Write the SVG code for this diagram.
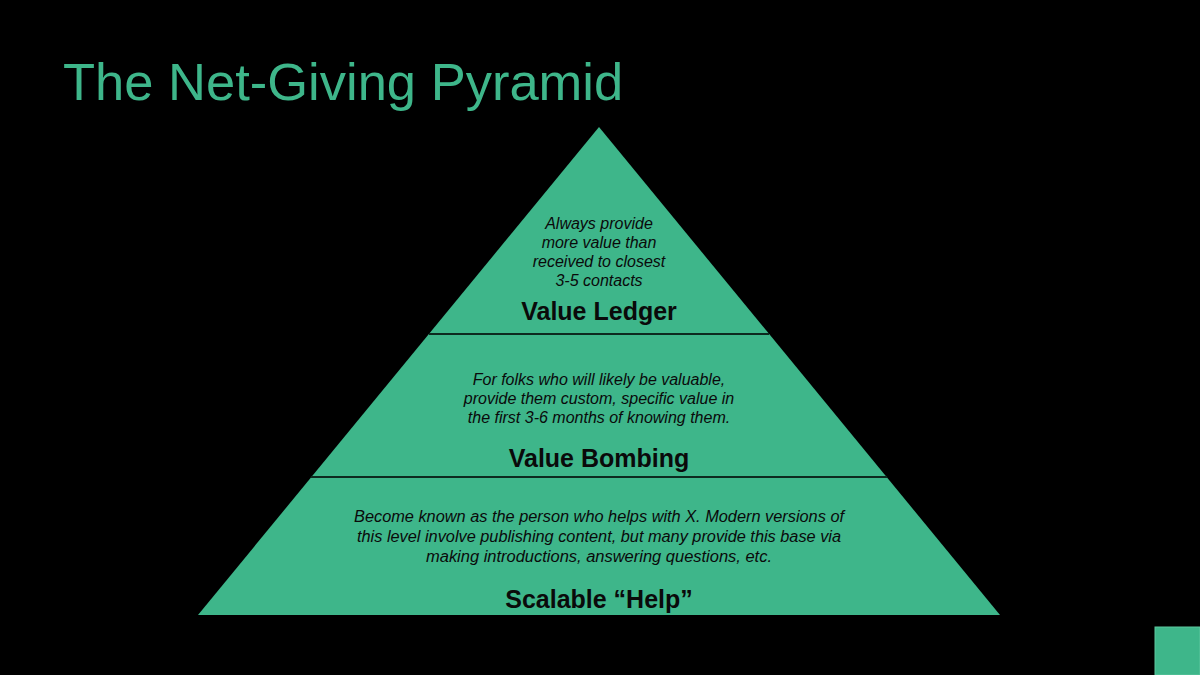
<svg xmlns="http://www.w3.org/2000/svg" width="1200" height="675" viewBox="0 0 1200 675">
<style>
.tier{fill:#3EB68A;}
.div{stroke:#0d2a1f;stroke-width:2;}
.desc{font-family:"Liberation Sans",Arial,sans-serif;font-style:italic;font-size:16px;fill:#0a0a0a;text-anchor:middle;}
.lbl{font-family:"Liberation Sans",Arial,sans-serif;font-weight:bold;font-size:25px;fill:#0a0a0a;text-anchor:middle;}
</style>
<rect width="1200" height="675" fill="#000"/>
<text x="63" y="100" font-family="'Liberation Sans',Arial,sans-serif" font-size="52.5" fill="#3EB68A">The Net-Giving Pyramid</text>
<g id="pyramid">
<polygon class="tier" points="599,127 1000,615 198,615"/>
</g>
<g id="connectors">
<line class="div" x1="429" y1="334" x2="769" y2="334"/>
<line class="div" x1="311" y1="477" x2="887" y2="477"/>
</g>
<g id="value-ledger">
<text class="desc" x="599" y="229">Always provide</text>
<text class="desc" x="599" y="248">more value than</text>
<text class="desc" x="599" y="267">received to closest</text>
<text class="desc" x="599" y="286">3-5 contacts</text>
<text class="lbl" x="599" y="320">Value Ledger</text>
</g>
<g id="value-bombing">
<text class="desc" x="599" y="385">For folks who will likely be valuable,</text>
<text class="desc" x="599" y="404">provide them custom, specific value in</text>
<text class="desc" x="599" y="423">the first 3-6 months of knowing them.</text>
<text class="lbl" x="599" y="467">Value Bombing</text>
</g>
<g id="scalable-help">
<text class="desc" x="599" y="522" textLength="490" lengthAdjust="spacingAndGlyphs">Become known as the person who helps with X. Modern versions of</text>
<text class="desc" x="599" y="542" textLength="484" lengthAdjust="spacingAndGlyphs">this level involve publishing content, but many provide this base via</text>
<text class="desc" x="599" y="562" textLength="346" lengthAdjust="spacingAndGlyphs">making introductions, answering questions, etc.</text>
<text class="lbl" x="599" y="608">Scalable “Help”</text>
</g>
<rect x="1155" y="627" width="45" height="48" fill="#3EB68A" stroke="#5cc79e" stroke-width="1"/>
</svg>
